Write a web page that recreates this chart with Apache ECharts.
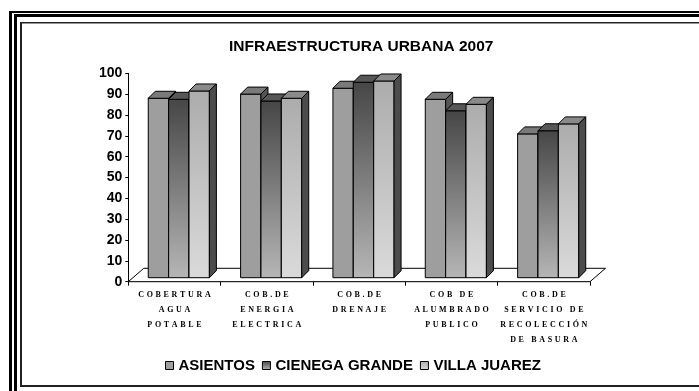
<!DOCTYPE html>
<html>
<head>
<meta charset="utf-8">
<script src="https://cdn.jsdelivr.net/npm/echarts@6/dist/echarts.min.js"></script>
<style>
  html, body { margin: 0; padding: 0; background: #fff; }
  #chart { width: 699px; height: 391px; }
</style>
</head>
<body>
<div id="chart"></div>
<script>
// Coverage of urban services (%) per locality, 2007
const categories = [
  'COBERTURA\nAGUA\nPOTABLE',
  'COB.DE\nENERGIA\nELECTRICA',
  'COB.DE\nDRENAJE',
  'COB DE\nALUMBRADO\nPUBLICO',
  'COB.DE\nSERVICIO DE\nRECOLECCIÓN\nDE BASURA'
];
const seriesNames = ['ASIENTOS', 'CIENEGA GRANDE', 'VILLA JUAREZ'];
const asientos      = [86.1, 88.1, 90.9, 85.6, 69.0];
const cienegaGrande = [85.6, 84.8, 93.8, 80.1, 70.5];
const villaJuarez   = [89.6, 86.1, 94.4, 83.2, 73.8];
const valueTicks = { min: 0, max: 100, interval: 10 };
const chartTitle = 'INFRAESTRUCTURA URBANA 2007';

const seriesValues = [asientos, cienegaGrande, villaJuarez];

// pseudo-3D box geometry (pixels)
const GROUP_RATIO = 0.662;   // share of the category band used by a cluster
const FACE_DX = 4.35, FACE_DY = -4;   // bars stand a little inside the floor
const DEPTH_DX = 7, DEPTH_DY = -7;    // box depth
const FLOOR_DX = 15.5, FLOOR_DY = -13.4;

const grad = (a, b) => new echarts.graphic.LinearGradient(0, 0, 0, 1, [
  { offset: 0, color: a }, { offset: 1, color: b }
]);

const boxStyles = [
  { front: () => '#9e9e9e', top: '#7a7a7a', side: '#555555' },
  { front: () => grad('#464646', '#b6b6b6'), top: '#575757', side: '#444444' },
  { front: () => grad('#acacac', '#dadada'), top: '#8a8a8a', side: '#4c4c4c' }
];

function boxRenderer(idx) {
  const st = boxStyles[idx];
  return function (params, api) {
    const cat = api.value(0), val = api.value(1);
    const base = api.coord([cat, 0]);
    const top = api.coord([cat, val]);
    const band = api.size([1, 0])[0];
    const groupW = band * GROUP_RATIO;
    const barW = groupW / 3;
    const x = base[0] + FACE_DX - groupW / 2 + idx * barW;
    const yb = base[1] + FACE_DY;
    const yt = top[1] + FACE_DY;
    const line = { stroke: '#000', lineWidth: 1 };
    return {
      type: 'group',
      children: [
        { type: 'rect', shape: { x: x, y: yt, width: barW, height: yb - yt },
          style: Object.assign({ fill: st.front() }, line) },
        { type: 'polygon', shape: { points: [[x, yt], [x + barW, yt], [x + barW + DEPTH_DX, yt + DEPTH_DY], [x + DEPTH_DX, yt + DEPTH_DY]] },
          style: Object.assign({ fill: st.top }, line) },
        { type: 'polygon', shape: { points: [[x + barW, yt], [x + barW + DEPTH_DX, yt + DEPTH_DY], [x + barW + DEPTH_DX, yb + DEPTH_DY], [x + barW, yb]] },
          style: Object.assign({ fill: st.side }, line) }
      ]
    };
  };
}

function floorRenderer(params, api) {
  const band = api.size([1, 0])[0];
  const left = api.coord([0, 0]);
  const right = api.coord([categories.length - 1, 0]);
  const x0 = left[0] - band / 2, x1 = right[0] + band / 2, y0 = left[1];
  return {
    type: 'polygon',
    shape: { points: [[x0, y0], [x1, y0], [x1 + FLOOR_DX, y0 + FLOOR_DY], [x0 + FLOOR_DX, y0 + FLOOR_DY]] },
    style: { fill: '#fff', stroke: '#000', lineWidth: 1 }
  };
}

// letter-spaced category captions
const spaced = s => s.split('\n').map(l => l.split('').join('\u2004')).join('\n');

const chart = echarts.init(document.getElementById('chart'), null, { renderer: 'canvas' });

const frame = [
  { x: 9, y: 11, w: 3, h: 380, c: '#000' },
  { x: 9, y: 11, w: 690, h: 2, c: '#000' },
  { x: 14, y: 14, w: 3, h: 377, c: '#000' },
  { x: 14, y: 14, w: 685, h: 3, c: '#000' },
  { x: 20, y: 22, w: 2, h: 365, c: '#222' },
  { x: 20, y: 22, w: 679, h: 1.6, c: '#222' },
  { x: 20, y: 385, w: 679, h: 2, c: '#222' }
].map(r => ({ type: 'rect', shape: { x: r.x, y: r.y, width: r.w, height: r.h }, style: { fill: r.c }, silent: true }));

chart.setOption({
  animation: false,
  backgroundColor: '#fff',
  graphic: frame,
  title: {
    text: chartTitle,
    left: 229, top: 39, padding: 0,
    textStyle: { fontFamily: "'Liberation Sans', Arial, sans-serif", fontSize: 15.5, fontWeight: 'bold', color: '#000' }
  },
  legend: {
    data: seriesNames.map((n, i) => ({
      name: n,
      itemStyle: { color: boxStyles[i].front(), borderColor: '#000', borderWidth: 1 }
    })),
    icon: 'rect',
    left: 165, top: 358, padding: 0,
    itemWidth: 8, itemHeight: 8, itemGap: 7,
    textStyle: { fontFamily: "'Liberation Sans', Arial, sans-serif", fontSize: 15, fontWeight: 'bold', color: '#000' }
  },
  grid: { left: 128.3, right: 109, top: 73.3, bottom: 109.3, containLabel: false },
  xAxis: {
    type: 'category',
    data: categories,
    axisLine: { lineStyle: { color: '#000', width: 1 } },
    axisTick: { show: true, length: 4, lineStyle: { color: '#000' } },
    axisLabel: {
      interval: 0, margin: 6, color: '#000',
      fontFamily: "'Liberation Serif', serif", fontSize: 8, fontWeight: 'bold', lineHeight: 15,
      formatter: spaced
    },
    splitLine: { show: false }
  },
  yAxis: {
    type: 'value',
    min: valueTicks.min, max: valueTicks.max, interval: valueTicks.interval,
    axisLine: { show: true, lineStyle: { color: '#000', width: 1 } },
    axisTick: { show: true, length: 3, lineStyle: { color: '#000' } },
    axisLabel: { margin: 6, color: '#000', fontFamily: "'Liberation Sans', Arial, sans-serif", fontSize: 14, fontWeight: 'bold' },
    splitLine: { show: false }
  },
  series: [
    { type: 'custom', name: 'floor', z: 1, silent: true, renderItem: floorRenderer, data: [[0, 0]] }
  ].concat(seriesNames.map((name, i) => ({
    type: 'custom',
    name: name,
    z: 2,
    itemStyle: { color: boxStyles[i].front(), borderColor: '#000' },
    renderItem: boxRenderer(i),
    encode: { x: 0, y: 1 },
    data: seriesValues[i].map((v, k) => [k, v])
  })))
});
</script>
</body>
</html>
